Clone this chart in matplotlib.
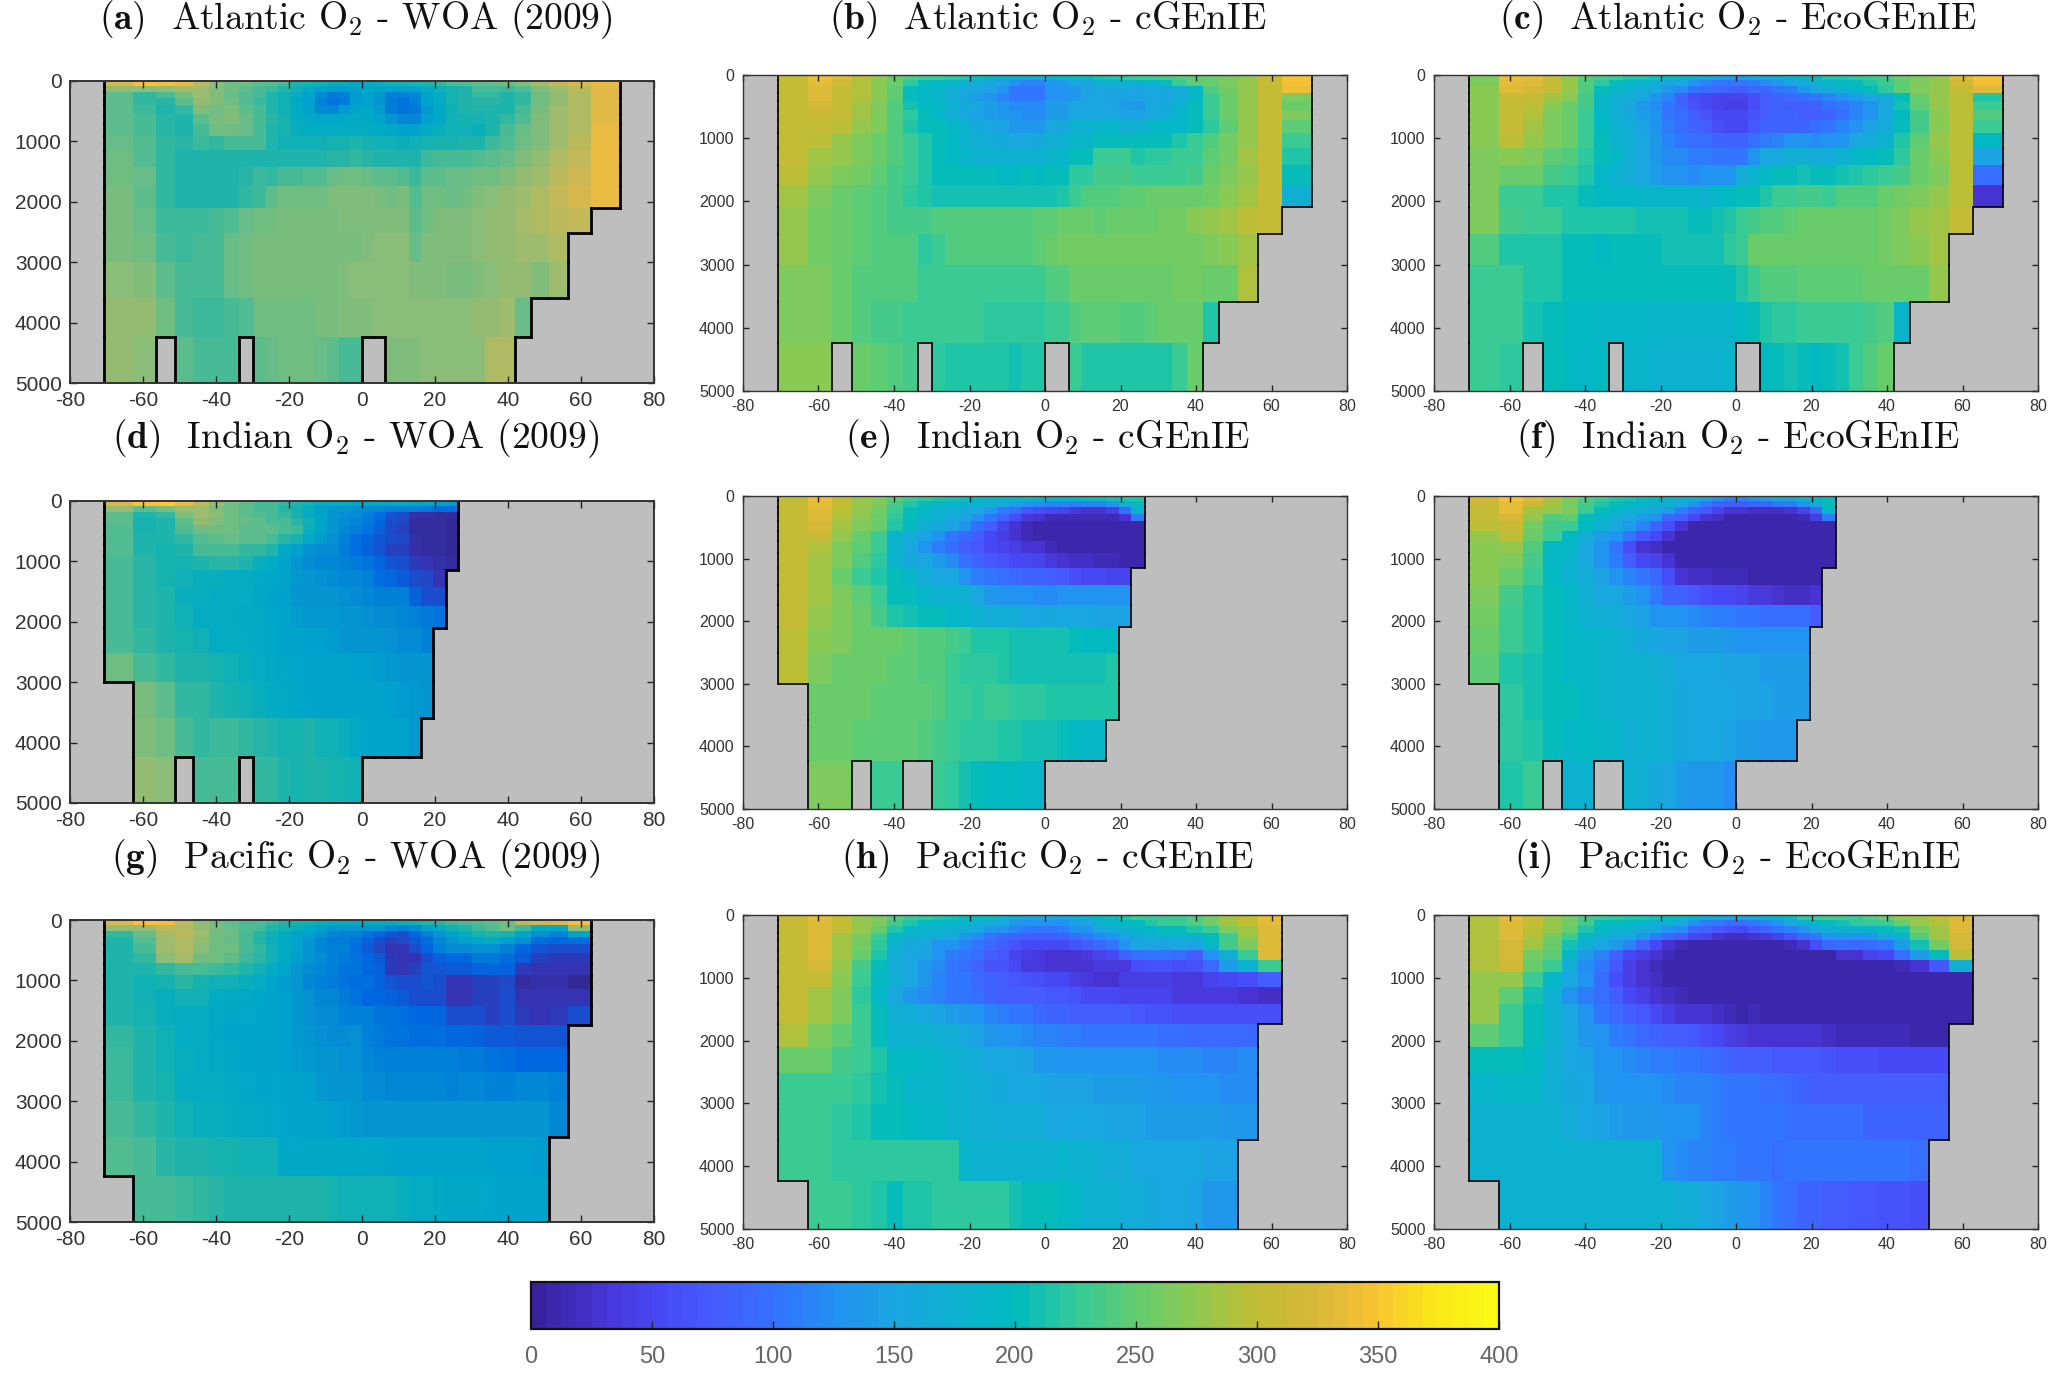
import numpy as np
import matplotlib
matplotlib.use('Agg')
import matplotlib.pyplot as plt
from matplotlib.colors import LinearSegmentedColormap
from matplotlib.cm import ScalarMappable
from matplotlib.colors import Normalize

N = np.nan

lat_edges = [-70.8, -62.7, -56.4, -51.1, -46.2, -41.8, -37.7, -33.7, -30, -26.4, -22.9, -19.5, -16.1, -12.8, -9.6, -6.4, -3.2, 0,
             3.2, 6.4, 9.6, 12.8, 16.1, 19.5, 22.9, 26.4, 30, 33.7, 37.7, 41.8, 46.2, 51.1, 56.4, 62.7, 70.8]
depth_edges = [0, 81, 174, 287, 405, 552, 716, 913, 1150, 1420, 1736, 2095, 2515, 3004, 3585, 4240, 5000]

atl_woa = [
    [320,345,340,335,305,270,255,250,240,235,225,205,195,190,185,185,180,180,185,190,195,200,205,215,225,235,240,245,250,265,290,310,320,335],
    [280,270,275,290,285,265,250,240,225,220,205,190,170,150,140,140,155,165,160,150,150,160,175,190,195,205,225,225,220,235,265,285,300,330],
    [240,215,225,260,285,265,245,235,225,205,190,175,150,115,95,100,140,155,135,105,100,110,155,180,195,205,215,215,205,215,250,280,295,330],
    [240,215,210,240,280,265,250,235,220,200,190,170,145,105,90,95,140,155,125,95,90,100,150,175,195,205,210,210,200,215,250,280,295,330],
    [240,220,205,215,265,255,265,240,225,205,190,175,155,115,110,140,160,165,140,95,90,95,135,170,190,200,205,205,205,225,260,285,295,330],
    [240,225,210,205,240,260,265,245,230,210,195,180,170,165,165,170,170,170,155,130,110,110,145,170,190,195,195,200,215,235,265,285,295,330],
    [240,225,210,205,225,250,250,245,225,205,195,185,180,175,175,175,180,180,170,165,145,150,170,185,190,190,185,200,225,245,265,285,295,335],
    [245,235,215,210,220,215,225,230,225,205,190,190,190,190,195,195,200,195,190,190,185,190,195,195,195,200,200,220,235,250,265,285,300,335],
    [250,235,215,205,205,200,205,205,205,205,205,205,205,205,210,210,215,210,205,205,205,205,220,225,225,230,235,240,245,265,280,295,310,335],
    [255,245,215,205,205,205,205,210,220,215,230,230,235,235,245,250,250,245,240,240,235,220,240,240,245,245,250,255,265,275,285,300,315,335],
    [260,240,215,205,205,205,205,215,220,240,250,255,255,255,265,265,265,265,260,250,260,235,255,250,245,255,265,270,275,285,295,310,320,335],
    [260,245,220,220,220,225,235,245,250,250,262,262,262,262,262,265,265,265,265,265,265,240,255,265,265,265,270,275,280,290,295,300,310],
    [260,250,230,220,225,230,245,250,262,262,262,262,262,262,262,262,262,265,270,270,270,245,265,265,265,265,270,275,280,285,285,295],
    [270,265,240,225,225,230,245,250,262,262,262,262,262,262,262,265,270,270,270,270,270,265,265,265,262,262,265,270,280,275,265,285],
    [275,275,250,225,220,220,225,235,250,255,255,255,255,260,260,265,265,265,270,270,270,270,270,270,270,270,275,280,285,245],
    [280,270,N,240,225,225,225,N,240,245,250,250,250,245,240,230,230,N,N,265,265,265,270,270,270,270,270,295,295],
]
atl_cgenie = [
    [305,340,330,295,275,255,240,225,225,220,215,205,195,185,180,180,180,190,195,200,205,210,215,220,225,230,235,240,245,250,260,270,310,345],
    [305,335,315,290,270,255,220,205,195,190,180,170,160,145,125,115,115,135,140,150,160,175,185,185,185,190,205,225,245,250,265,275,305,345],
    [305,330,305,290,270,245,205,190,185,170,155,150,145,125,105,105,105,130,125,135,145,150,150,150,145,150,160,165,190,240,260,275,305,340],
    [305,325,300,290,270,245,205,190,185,170,150,140,130,115,105,105,105,125,130,135,145,150,145,145,145,150,155,165,190,225,255,280,305,265],
    [305,320,300,285,265,240,210,195,190,180,160,150,140,130,120,120,120,140,140,150,155,150,145,140,135,150,160,175,205,225,250,275,305,250],
    [305,312,300,285,265,240,220,205,190,170,155,145,140,135,130,120,120,140,140,150,150,155,155,145,145,155,165,185,205,225,250,280,305,265],
    [305,305,295,280,265,240,215,205,200,190,175,160,150,145,135,135,135,150,160,175,175,185,185,170,170,185,190,190,205,220,245,280,305,245],
    [300,295,280,265,255,240,225,215,205,195,180,170,165,160,155,155,160,170,175,185,185,200,205,205,205,205,205,215,225,240,260,280,305,230],
    [300,285,275,265,255,240,225,215,205,195,185,180,180,180,175,175,180,185,185,205,205,225,225,225,215,220,220,225,230,245,260,285,300,215],
    [295,275,265,260,245,235,225,215,205,205,205,205,205,195,195,200,195,200,205,220,220,235,235,235,230,230,230,230,235,250,265,280,300,200],
    [285,265,255,245,240,235,220,215,210,210,210,210,210,210,210,210,210,210,215,230,240,240,240,245,245,250,250,250,250,260,270,285,300,170],
    [280,260,250,245,240,235,235,235,240,240,240,240,240,240,240,240,245,245,250,255,250,245,255,255,255,255,260,260,270,275,285,295,305],
    [280,260,250,245,240,240,240,220,225,240,240,240,240,240,240,240,245,250,260,262,262,262,262,262,262,262,262,262,262,265,270,285],
    [265,265,250,240,240,240,240,225,225,225,225,225,225,225,225,225,225,240,240,250,250,250,250,250,250,250,250,260,260,250,250,290],
    [265,265,255,240,235,235,225,225,225,225,225,225,220,220,220,220,220,225,230,240,245,245,245,240,240,245,250,250,250,215],
    [270,270,N,250,245,240,235,N,220,215,215,215,215,215,210,215,215,N,N,225,215,215,215,215,215,215,215,230,250],
]
atl_eco = [
    [265,340,335,305,280,245,235,225,215,215,210,205,195,185,170,150,140,140,150,160,170,175,190,205,215,215,220,230,235,250,265,280,330,345],
    [268,335,325,305,280,240,220,205,195,185,170,160,150,130,115,105,100,100,110,120,135,150,165,180,190,195,205,215,225,245,265,280,315,340],
    [270,325,320,305,280,240,205,190,180,165,150,135,120,105,95,90,85,80,90,90,100,110,135,150,165,175,190,205,220,245,265,280,300,330],
    [270,310,300,285,270,235,190,170,165,150,130,115,85,60,50,45,45,45,60,75,85,90,95,105,115,125,140,155,165,200,250,280,295,215],
    [270,305,295,270,255,235,190,170,150,135,120,100,85,65,50,45,40,40,60,75,85,80,75,85,95,100,115,130,150,210,245,280,295,225],
    [270,300,290,265,255,230,190,170,160,140,125,105,95,75,65,55,50,50,65,80,85,85,75,75,85,95,115,130,150,195,235,270,295,240],
    [270,300,285,265,255,225,195,175,165,145,130,110,95,85,75,60,55,50,70,85,85,85,85,95,105,115,130,145,165,205,235,270,295,225],
    [270,295,280,265,250,225,200,175,170,150,135,115,100,95,95,85,85,85,95,110,115,125,130,120,125,130,155,165,175,215,245,275,295,195],
    [265,270,265,245,240,220,200,190,170,150,135,120,120,110,110,105,105,105,130,150,150,170,170,165,165,180,190,195,205,220,250,270,295,145],
    [265,250,250,235,230,215,190,180,165,155,140,130,125,120,130,130,130,165,175,195,200,205,210,205,200,210,215,220,225,235,255,265,295,95],
    [265,225,225,215,215,205,195,190,190,185,185,185,185,185,180,190,195,205,205,215,225,225,235,235,230,240,240,240,250,260,265,280,295,25],
    [265,235,230,225,215,215,215,215,215,210,210,210,210,205,205,210,215,225,235,240,240,245,250,250,250,250,255,255,260,265,275,285,305],
    [240,215,215,215,205,205,195,205,205,205,205,210,210,210,210,210,220,225,250,250,250,250,250,250,250,250,250,255,260,265,270,285],
    [225,225,215,215,200,200,200,200,200,200,200,200,200,200,200,200,205,215,225,240,240,240,245,245,245,245,245,250,250,250,250,280],
    [225,225,210,200,195,195,190,190,190,190,185,185,185,185,185,185,185,195,205,215,220,220,225,225,225,225,225,235,240,185],
    [225,220,N,200,195,190,195,N,185,185,180,180,180,180,180,180,185,N,N,195,205,210,200,195,205,210,230,240,255],
]
ind_woa = [
    [320,345,350,335,300,275,255,240,230,225,215,205,190,180,175,170,165,165,170,170,175,170,165,150,140],
    [280,240,260,285,285,265,250,240,230,225,210,195,175,150,130,125,120,115,110,105,100,100,95,85,85],
    [240,205,215,265,285,270,250,240,235,225,215,195,170,150,130,120,115,100,85,60,55,20,20,15,15],
    [240,195,205,240,280,265,250,245,240,230,225,210,190,160,130,115,110,95,80,50,45,15,15,15,10],
    [235,195,205,235,255,255,255,240,240,240,230,220,185,150,125,110,105,90,70,45,40,15,15,15,10],
    [235,200,205,215,235,240,245,240,240,225,210,195,170,140,120,100,85,80,60,50,45,20,15,15,10],
    [235,205,195,205,225,225,225,215,215,200,170,145,120,115,115,95,85,70,60,40,40,20,15,15,10],
    [225,210,195,195,205,210,210,200,185,175,150,125,115,110,110,100,95,90,75,60,55,35,25,20,15],
    [225,210,195,190,185,185,180,180,170,165,150,135,125,120,115,110,110,100,85,75,65,50,45,25],
    [225,210,200,185,185,175,180,175,165,155,145,130,125,125,125,120,115,110,105,105,100,70,55,50],
    [225,210,205,190,180,175,175,170,170,160,150,140,135,135,135,130,125,120,115,115,110,100,95,90],
    [225,215,205,195,190,180,175,175,170,165,155,150,145,145,140,130,125,125,125,120,115,115,105],
    [250,230,215,205,200,195,190,185,175,170,165,160,155,155,150,150,145,145,140,135,130,125,125],
    [N,260,240,215,215,205,195,190,185,175,170,165,160,155,155,150,150,150,150,145,140,135,125],
    [N,265,255,225,215,220,220,215,210,205,195,195,200,190,190,185,170,160,160,160,155,135],
    [N,280,270,N,225,225,225,N,215,215,205,195,205,200,195,195,190],
]
ind_cgenie = [
    [305,340,310,280,265,245,225,220,215,210,205,195,195,190,190,190,190,190,195,195,200,205,210,215,215],
    [305,335,305,280,265,235,215,205,195,185,180,175,165,150,140,130,120,115,115,110,115,115,125,170,200],
    [305,330,295,280,260,225,205,190,180,170,160,150,135,105,95,70,60,55,45,35,30,25,40,95,175],
    [305,325,290,270,250,220,205,185,175,160,145,130,105,85,60,35,25,15,15,15,15,15,15,25,110],
    [305,320,285,265,250,215,195,170,160,145,125,95,75,45,30,15,10,10,10,10,10,10,10,10,10],
    [305,312,275,250,225,185,165,145,125,105,90,80,55,40,25,15,10,10,10,10,10,10,10,10,10],
    [305,290,265,245,225,185,155,130,110,95,80,70,50,45,40,30,25,15,10,10,10,10,10,10,10],
    [305,285,265,240,220,180,160,150,140,120,95,85,70,65,55,50,45,35,30,20,20,15,15,10,10],
    [305,285,255,225,215,200,185,165,155,150,125,110,100,95,90,85,85,80,70,60,55,50,45,45],
    [300,285,265,245,225,205,200,185,180,175,175,155,135,130,125,125,120,120,125,125,125,125,125,125],
    [300,275,265,250,235,215,210,205,200,190,185,175,165,165,165,155,155,160,150,150,150,145,145,145],
    [295,270,265,255,250,250,245,240,240,235,225,215,215,215,210,210,210,212,210,205,195,195,195],
    [295,265,255,250,250,245,245,240,240,225,220,220,220,215,212,212,212,212,212,212,212,212,215],
    [N,255,250,250,245,245,245,245,240,230,225,222,225,225,222,222,220,215,215,215,215,215,215],
    [N,250,250,248,245,245,245,240,235,225,222,222,220,218,215,212,210,208,205,195,190,190],
    [N,265,265,N,225,225,N,N,225,220,210,205,198,198,198,190,188],
]
ind_eco = [
    [320,345,330,290,265,240,225,215,210,205,195,190,180,170,155,125,115,115,130,140,150,160,175,190,205],
    [310,335,310,285,260,235,215,205,195,185,175,170,155,130,100,85,80,75,85,85,100,110,130,160,200],
    [305,335,285,275,265,225,205,190,180,170,160,140,110,85,70,45,25,25,20,20,20,25,45,90,185],
    [300,320,280,240,245,205,185,165,150,140,130,90,75,50,30,20,10,10,10,10,10,10,15,40,110],
    [295,310,260,235,225,195,170,150,140,115,85,60,25,10,10,10,10,10,10,10,10,10,10,10,10],
    [280,295,250,225,195,165,140,125,105,70,55,30,10,10,10,10,10,10,10,10,10,10,10,10,10],
    [270,280,240,195,190,150,130,100,60,30,20,12,10,10,10,10,10,10,10,10,10,10,10,10,10],
    [270,265,235,190,185,155,125,110,75,55,45,25,10,10,10,10,10,10,10,10,10,10,10,10,10],
    [270,250,225,195,180,165,145,125,115,100,90,60,30,20,20,15,15,15,10,10,10,10,10,10],
    [265,235,215,205,190,170,155,150,140,130,110,85,85,70,60,55,55,45,35,35,30,20,20,25],
    [260,230,215,200,190,180,170,165,155,145,130,125,125,120,115,110,110,105,105,95,95,95,95,75],
    [255,225,215,205,190,190,185,180,170,160,155,145,145,140,140,140,135,130,125,125,125,125,125],
    [245,215,210,205,190,190,185,180,180,175,170,165,155,150,150,150,145,145,145,140,140,140,140],
    [N,220,210,205,200,190,185,180,180,175,175,165,160,155,150,150,150,145,145,145,140,140,140],
    [N,220,215,200,190,195,190,185,170,175,175,165,160,150,150,150,145,140,140,135,135,135],
    [N,215,230,N,175,175,N,N,180,170,160,150,140,135,135,135,120],
]
pac_woa = [
    [320,345,340,305,270,255,240,230,225,215,205,195,190,185,180,180,175,175,175,180,185,190,200,210,220,230,235,240,250,300,315,320,340],
    [275,275,305,295,280,260,245,235,225,205,195,185,170,150,130,125,125,130,130,110,105,115,150,175,190,205,220,235,255,220,170,165,280],
    [215,245,290,300,285,255,250,230,210,190,175,160,145,125,110,105,105,90,80,60,55,80,100,125,150,175,195,200,195,160,120,100,150],
    [205,235,285,295,275,250,245,225,205,185,170,150,130,110,95,95,90,70,50,40,45,65,85,110,125,145,165,175,145,120,85,80,85],
    [205,225,285,295,270,255,250,225,215,190,170,150,130,110,100,100,85,65,45,30,30,50,75,100,115,115,120,120,100,75,60,50,50],
    [205,215,270,290,255,250,240,220,210,190,170,145,130,115,100,95,90,75,65,35,30,30,55,70,75,80,95,95,85,65,40,35,35],
    [200,200,215,230,225,220,215,205,190,175,160,130,115,110,100,90,90,80,70,35,30,40,60,60,65,65,70,75,70,35,30,30,25],
    [200,190,195,210,195,190,190,185,175,155,140,130,110,105,95,90,85,85,70,60,55,55,60,50,25,25,40,40,45,15,20,20,10],
    [200,190,185,190,190,175,170,170,165,155,145,135,120,110,110,95,90,80,80,70,65,50,50,50,30,30,40,40,50,30,25,25,25],
    [205,195,185,175,175,170,165,165,160,155,145,135,120,115,115,105,100,100,90,90,85,80,80,75,50,50,55,40,55,35,30,35,55],
    [215,200,190,180,175,165,160,160,160,150,145,135,125,120,115,115,120,105,95,90,90,85,85,85,80,75,70,65,65,60,60,60],
    [220,205,190,185,175,170,165,160,155,155,145,140,135,130,125,120,120,110,105,105,105,105,100,100,100,95,95,90,85,80,80,75],
    [220,205,195,180,180,175,170,165,160,160,150,150,145,135,130,125,125,115,115,110,110,110,110,110,105,110,110,100,100,110,110,105],
    [225,215,200,190,185,185,175,170,170,165,160,155,150,150,145,140,135,130,125,125,125,125,125,125,125,125,125,125,125,130,130,110],
    [235,225,210,205,200,195,195,190,190,190,165,165,165,165,165,165,165,165,165,160,155,150,150,150,150,150,150,145,145,145,140],
    [N,230,225,220,215,210,205,205,205,205,200,200,200,200,195,190,190,190,190,190,185,180,175,170,165,165,165,160,155,155,150],
]
pac_cgenie = [
    [310,335,305,280,265,240,225,220,215,210,205,205,200,190,170,155,150,155,160,170,180,195,205,215,225,225,230,230,240,260,285,300,335],
    [310,330,300,280,265,235,215,205,195,190,185,175,165,150,135,130,125,125,130,140,150,175,185,195,205,215,225,230,240,260,285,300,335],
    [305,325,300,275,250,215,190,180,175,170,165,150,135,125,115,110,105,105,110,125,130,155,165,175,185,190,200,205,215,225,265,285,330],
    [305,325,285,265,225,190,175,170,165,150,135,120,105,90,85,75,75,75,85,95,110,120,130,145,160,170,175,180,185,200,230,275,330],
    [305,325,285,260,220,180,160,150,130,125,115,100,90,80,65,55,50,50,55,65,75,90,105,125,150,155,145,150,145,190,235,265,325],
    [305,325,285,250,215,170,155,145,125,110,105,95,80,70,45,40,35,30,30,30,35,45,55,85,95,100,100,95,80,125,170,225,325],
    [305,320,275,235,200,165,150,135,120,100,95,85,65,65,50,35,35,30,30,30,30,35,35,35,60,65,65,60,65,90,140,175,225],
    [305,305,270,225,195,170,150,135,115,105,100,90,85,75,70,65,60,50,50,40,35,30,30,40,40,40,40,35,35,45,55,60,75],
    [305,285,265,220,190,155,135,120,115,105,100,95,85,80,80,75,75,70,70,65,50,50,50,45,45,45,45,35,35,35,35,30,20],
    [305,285,265,225,200,170,165,150,145,140,135,125,115,110,105,100,90,85,85,80,75,75,75,75,70,65,65,60,60,60,60,60,60],
    [290,265,245,225,205,180,175,175,170,165,150,145,135,130,130,120,115,115,110,110,105,105,105,105,100,100,95,95,90,90,90,90],
    [250,250,235,225,215,195,195,190,185,180,170,165,155,155,150,145,135,135,130,130,130,125,125,125,125,125,120,120,120,115,115,120],
    [230,230,225,220,210,200,185,185,185,180,175,170,165,160,155,150,150,145,145,145,145,140,140,140,140,135,135,130,125,125,120,120],
    [225,225,220,215,205,200,195,190,190,180,175,170,170,165,165,165,165,155,155,150,150,150,145,145,145,140,140,140,140,140,135,135],
    [225,225,220,220,220,220,220,220,220,220,185,180,175,175,175,175,175,180,185,175,175,170,165,165,155,155,150,150,150,145,145],
    [N,225,225,220,215,205,215,215,220,220,220,220,220,220,210,205,205,200,195,190,180,175,175,165,165,160,150,150,145,135,135],
]
pac_eco = [
    [290,335,310,280,260,235,225,220,215,215,210,205,205,195,185,170,160,160,170,180,190,205,220,230,235,235,230,240,250,275,285,300,325],
    [290,330,305,280,260,235,205,200,195,190,180,175,150,130,110,100,95,95,105,115,125,155,175,190,200,210,220,230,230,250,275,290,325],
    [290,325,295,275,255,215,195,185,175,165,155,130,120,90,85,70,60,55,70,85,100,115,125,155,170,175,180,185,200,210,260,285,325],
    [290,325,290,260,225,190,170,155,150,135,110,90,75,55,45,30,20,20,30,35,45,65,90,105,130,135,130,135,150,175,240,285,320],
    [290,320,285,250,210,170,150,140,115,85,55,30,15,10,10,10,10,10,10,10,10,15,30,60,90,95,90,95,105,140,210,260,315],
    [290,320,260,245,190,140,115,85,50,40,25,15,10,10,10,10,10,10,10,10,10,10,10,10,10,25,30,45,55,95,140,200,295],
    [290,315,250,225,170,120,100,70,40,30,15,10,10,10,10,10,10,10,10,10,10,10,10,10,10,10,10,10,10,15,30,70,170],
    [275,275,230,190,150,125,95,60,40,30,20,10,10,10,10,10,10,10,10,10,10,10,10,10,10,10,10,10,10,10,10,10,10],
    [275,245,210,180,130,110,95,75,55,40,25,20,15,12,10,10,10,10,10,10,10,10,10,10,10,10,10,10,10,10,10,10,10],
    [280,225,205,180,150,125,105,90,80,70,50,40,30,25,25,20,15,12,15,12,10,10,10,10,10,10,10,10,10,10,10,10,10],
    [245,225,205,175,155,135,125,110,100,90,85,80,75,70,60,50,40,35,30,30,25,25,25,25,20,15,15,15,15,15,12,10],
    [205,205,195,170,155,145,130,125,120,115,110,110,105,100,95,90,85,80,80,75,70,70,70,70,65,60,60,60,55,55,55,50],
    [185,190,190,170,160,150,135,130,130,125,125,120,115,115,115,110,105,100,100,95,95,90,85,80,80,80,80,75,75,75,75,75],
    [180,180,180,175,165,155,145,140,135,135,135,130,125,125,115,110,105,105,100,100,100,95,95,95,95,95,95,85,85,85,85,85],
    [180,180,180,175,175,175,175,175,175,175,175,125,120,115,115,110,110,105,105,100,95,100,100,100,100,100,100,100,100,100,95],
    [N,180,180,180,175,175,175,175,175,175,175,175,170,165,150,145,140,135,130,115,105,95,85,85,80,75,70,70,65,65,60],
]

titles = [
    ('(a)', 'Atlantic', 'WOA (2009)'), ('(b)', 'Atlantic', 'cGEnIE'), ('(c)', 'Atlantic', 'EcoGEnIE'),
    ('(d)', 'Indian', 'WOA (2009)'), ('(e)', 'Indian', 'cGEnIE'), ('(f)', 'Indian', 'EcoGEnIE'),
    ('(g)', 'Pacific', 'WOA (2009)'), ('(h)', 'Pacific', 'cGEnIE'), ('(i)', 'Pacific', 'EcoGEnIE'),
]
panels = [atl_woa, atl_cgenie, atl_eco, ind_woa, ind_cgenie, ind_eco, pac_woa, pac_cgenie, pac_eco]

x_ticks = [-80, -60, -40, -20, 0, 20, 40, 60, 80]
y_ticks = [0, 1000, 2000, 3000, 4000, 5000]
cbar_ticks = [0, 50, 100, 150, 200, 250, 300, 350, 400]

cmap_stops = [
    (0, (0.22, 0.13, 0.62)), (25, (0.28, 0.20, 0.82)), (50, (0.28, 0.28, 0.96)), (75, (0.27, 0.36, 1.0)),
    (100, (0.20, 0.45, 1.0)), (125, (0.13, 0.57, 0.95)), (150, (0.10, 0.65, 0.88)), (200, (0.0, 0.73, 0.75)),
    (225, (0.20, 0.79, 0.60)), (250, (0.38, 0.80, 0.44)), (275, (0.55, 0.79, 0.32)), (300, (0.75, 0.74, 0.20)),
    (325, (0.84, 0.72, 0.22)), (350, (0.97, 0.76, 0.20)), (375, (0.98, 0.90, 0.10)), (400, (0.98, 0.98, 0.08)),
]
# the WOA column of the source figure is printed in a duller version of the same map
woa_stops = [
    (0, (0.20, 0.15, 0.55)), (25, (0.20, 0.20, 0.70)), (50, (0.10, 0.30, 0.80)), (75, (0.0, 0.40, 0.88)),
    (100, (0.0, 0.50, 0.85)), (125, (0.02, 0.58, 0.82)), (150, (0.0, 0.64, 0.80)), (175, (0.0, 0.67, 0.77)),
    (200, (0.10, 0.70, 0.68)), (225, (0.25, 0.73, 0.60)), (250, (0.42, 0.74, 0.52)), (275, (0.55, 0.74, 0.46)),
    (300, (0.70, 0.73, 0.38)), (325, (0.85, 0.72, 0.30)), (350, (1.0, 0.75, 0.20)), (400, (0.98, 0.98, 0.08)),
]
parula_like = LinearSegmentedColormap.from_list('parula_like', [(v / 400, c) for v, c in cmap_stops], N=64)
woa_map = LinearSegmentedColormap.from_list('woa_map', [(v / 400, c) for v, c in woa_stops], N=64)

plt.rcParams['font.family'] = 'Liberation Sans'
plt.rcParams['mathtext.fontset'] = 'cm'
plt.rcParams['axes.unicode_minus'] = False

W, H = 2067, 1382
fig = plt.figure(figsize=(W / 100, H / 100), dpi=100)


def px_axes(left, top, right, bottom):
    return fig.add_axes([left / W, 1 - bottom / H, (right - left) / W, (bottom - top) / H])


def to_grid(rows):
    grid = np.full((16, 34), np.nan)
    for i, row in enumerate(rows):
        grid[i, :len(row)] = row
    return grid


def draw_coast(ax, ocean, lw):
    # outline between water and land, not along the top or bottom of the box
    for i in range(16):
        for j in range(34):
            if not ocean[i, j]:
                continue
            if j == 0 or not ocean[i, j - 1]:
                ax.plot([lat_edges[j]] * 2, depth_edges[i:i + 2], 'k', lw=lw, solid_capstyle='projecting')
            if j == 33 or not ocean[i, j + 1]:
                ax.plot([lat_edges[j + 1]] * 2, depth_edges[i:i + 2], 'k', lw=lw, solid_capstyle='projecting')
            if i > 0 and not ocean[i - 1, j]:
                ax.plot(lat_edges[j:j + 2], [depth_edges[i]] * 2, 'k', lw=lw, solid_capstyle='projecting')
            if i < 15 and not ocean[i + 1, j]:
                ax.plot(lat_edges[j:j + 2], [depth_edges[i + 1]] * 2, 'k', lw=lw, solid_capstyle='projecting')


col_x = [(70, 654), (743, 1347), (1434, 2038)]
row_y = [[(81, 383), (501, 803), (920, 1222)],
         [(75, 391), (496, 809), (915, 1229)],
         [(75, 391), (496, 809), (915, 1229)]]
title_y = [20, 439, 859]
title_x = [356, 1048, 1738]

for n, rows in enumerate(panels):
    r, c = divmod(n, 3)
    ax = px_axes(col_x[c][0], row_y[c][r][0], col_x[c][1], row_y[c][r][1])
    ax.set_facecolor((0.745, 0.745, 0.745))
    grid = to_grid(rows)
    ax.pcolormesh(lat_edges, depth_edges, np.ma.masked_invalid(grid), cmap=woa_map if c == 0 else parula_like,
                  vmin=0, vmax=400)
    draw_coast(ax, ~np.isnan(grid), 2.0 if c == 0 else 1.2)
    ax.set_xlim(-80, 80)
    ax.set_ylim(5000, 0)
    ax.set_xticks(x_ticks)
    ax.set_yticks(y_ticks)
    ax.tick_params(direction='in', top=True, right=True, length=5 if c == 0 else 4, width=1,
                   labelsize=15 if c == 0 else 11.5, labelcolor='#333333', pad=6, color='#222222')
    for lab in ax.get_yticklabels():
        lab.set_fontsize(15 if c == 0 else 11.5)
    for s in ax.spines.values():
        s.set_linewidth(1.4 if c == 0 else 1.0)
        s.set_color('#333333')
    tag, basin, source = titles[n]
    fig.text(title_x[c] / W, 1 - title_y[r] / H, r'$\mathbf{%s}$  %s O$_2$ - %s' % (tag, basin, source),
             ha='center', va='center', fontsize=27, color='#111111', family='cmr10')

cax = px_axes(531, 1282, 1499, 1329)
cb = fig.colorbar(ScalarMappable(Normalize(0, 400), parula_like), cax=cax, orientation='horizontal')
cb.set_ticks(cbar_ticks)
cb.ax.tick_params(direction='in', length=6, width=1, labelsize=17, labelcolor='#666666', pad=12, color='#222222')
cb.outline.set_linewidth(1.6)
cb.outline.set_edgecolor('#111111')

fig.savefig('out.png', dpi=100)
